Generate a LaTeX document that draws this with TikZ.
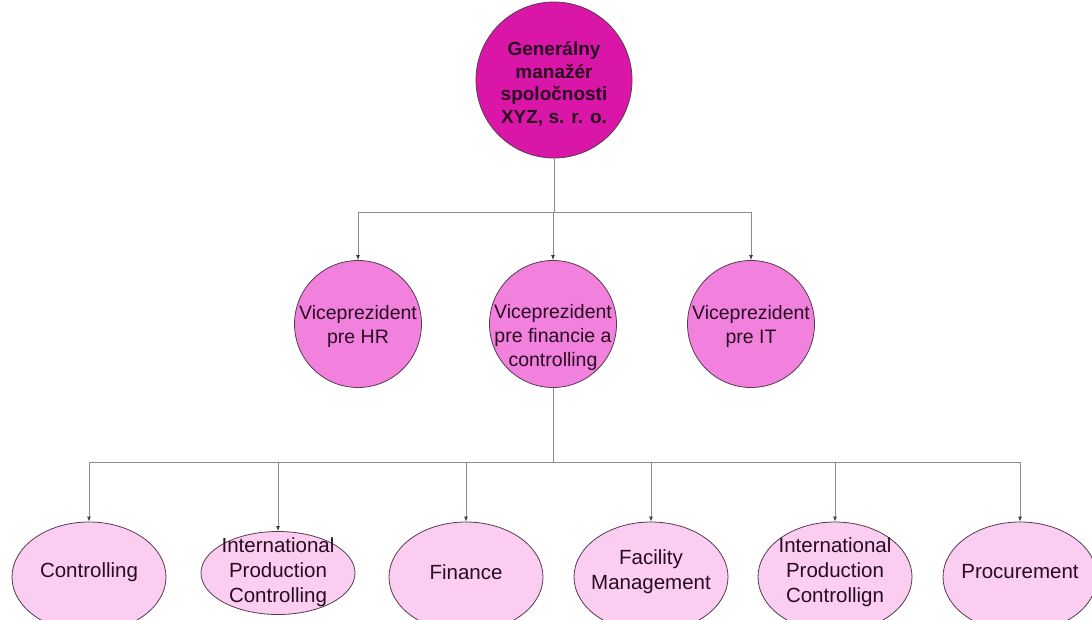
\documentclass[tikz,border=0pt]{standalone}
\usepackage{fontspec}
\setmainfont{Liberation Sans}
\usetikzlibrary{arrows.meta,shapes.geometric}
\definecolor{gmfill}{RGB}{218,22,168}
\definecolor{vpfill}{RGB}{242,128,221}
\definecolor{unitfill}{RGB}{251,206,241}
\definecolor{edge}{RGB}{85,60,80}
\definecolor{conn}{RGB}{140,140,140}
\definecolor{txt}{RGB}{40,12,32}
\tikzset{
  gmnode/.style={circle,draw=edge,line width=0.8pt,fill=gmfill,minimum size=156pt,inner sep=0pt},
  gmtext/.style={align=center,text=txt,inner sep=0pt,font=\fontsize{19}{22.5}\selectfont\bfseries},
  vpnode/.style={circle,draw=edge,line width=0.8pt,fill=vpfill,minimum size=127pt,inner sep=0pt},
  vptext/.style={align=center,text=txt,inner sep=0pt,font=\fontsize{19.5}{24}\selectfont},
  unitnode/.style={ellipse,draw=edge,line width=0.8pt,fill=unitfill,minimum width=154pt,minimum height=110pt,inner sep=0pt},
  unitsmall/.style={unitnode,minimum height=83pt},
  unittext/.style={align=center,text=txt,inner sep=0pt,font=\fontsize{20.5}{25}\selectfont},
  conline/.style={draw=conn,line width=0.8pt},
  conarrow/.style={conline,-{Latex[length=5pt,width=4pt,color=black!75]}}
}
\begin{document}
\begin{tikzpicture}[x=1pt,y=-1pt]
\useasboundingbox (0,0) rectangle (1092,619);
\clip (0,0) rectangle (1092,619);
\node[gmnode,label={[gmtext,yshift=-4pt]center:Generálny\\manažér\\spoločnosti\\XYZ, s. r. o.}] (gm) at (554,80) {};
\node[vpnode,label={[vptext,yshift=-2pt]center:Viceprezident\\pre HR}] (hr) at (358,324) {};
\node[vpnode,label={[vptext,yshift=-13pt]center:Viceprezident\\pre financie a\\controlling}] (fin) at (553,324) {};
\node[vpnode,label={[vptext,yshift=-2pt]center:Viceprezident\\pre IT}] (it) at (751,324) {};
\node[unitnode,label={[unittext,yshift=5pt]center:Controlling}] (c1) at (89,577) {};
\node[unitsmall,label={[unittext,yshift=1pt]center:International\\Production\\Controlling}] (c2) at (278,573) {};
\node[unitnode,label={[unittext,yshift=5pt]center:Finance}] (c3) at (466,577) {};
\node[unitnode,label={[unittext,yshift=5pt]center:Facility\\Management}] (c4) at (651,577) {};
\node[unitnode,label={[unittext,yshift=5pt]center:International\\Production\\Controllign}] (c5) at (835,577) {};
\node[unitnode,label={[unittext,yshift=5pt]center:Procurement}] (c6) at (1020,577) {};
\coordinate (j1) at (554,212);
\coordinate (j2) at (553,462);
\draw[conline] (gm) -- (j1);
\draw[conarrow] (j1) -| (hr);
\draw[conarrow] (j1) -| (fin);
\draw[conarrow] (j1) -| (it);
\draw[conline] (fin) -- (j2);
\draw[conarrow] (j2) -| (c1);
\draw[conarrow] (j2) -| (c2);
\draw[conarrow] (j2) -| (c3);
\draw[conarrow] (j2) -| (c4);
\draw[conarrow] (j2) -| (c5);
\draw[conarrow] (j2) -| (c6);
\end{tikzpicture}
\end{document}
